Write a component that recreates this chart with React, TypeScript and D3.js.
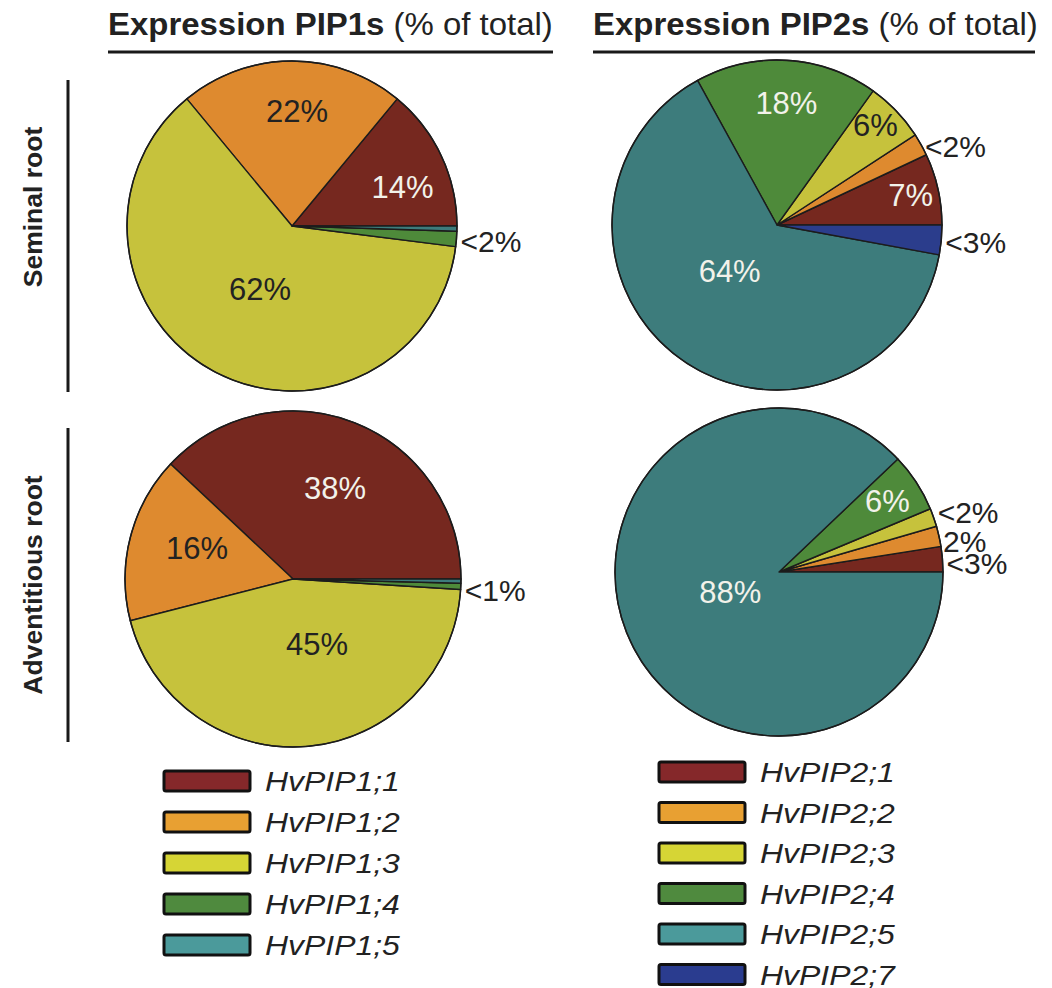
import React from "react";
import * as d3 from "d3";

// gene names (legend entries)
const pip1Genes = ["HvPIP1;1", "HvPIP1;2", "HvPIP1;3", "HvPIP1;4", "HvPIP1;5"];
const pip2Genes = ["HvPIP2;1", "HvPIP2;2", "HvPIP2;3", "HvPIP2;4", "HvPIP2;5", "HvPIP2;7"];

// expression share, % of total (same order as the genes)
const pip1Seminal = [14, 22, 62, 1.5, 0.5];
const pip1Adventitious = [38, 16, 45, 0.6, 0.4];
const pip2Seminal = [7, 2.2, 5.9, 17.9, 64.1, 2.9];
const pip2Adventitious = [2.5, 2.0, 1.8, 5.8, 87.9, 0];

// printed labels per slice ("" = none)
const pip1SeminalLabels = ["14%", "22%", "62%", "<2%", ""];
const pip1AdventitiousLabels = ["38%", "16%", "45%", "<1%", ""];
const pip2SeminalLabels = ["7%", "<2%", "6%", "18%", "64%", "<3%"];
const pip2AdventitiousLabels = ["<3%", "2%", "<2%", "6%", "88%", ""];

const rowNames = ["Seminal root", "Adventitious root"];
const titles = ["Expression PIP1s", "Expression PIP2s"];

// colours
const pieColors = ["#76281f", "#de8a2f", "#c6c23c", "#4e8a3a", "#3d7c7c", "#2b3d8c"];
const legendColors = ["#85282a", "#e8a032", "#d6d535", "#4f8a3e", "#4b9a9b", "#2a3c8f"];
const lightText = "#f2f2ea";
const darkText = "#222";

// label placement: r = fraction of radius, da = angle nudge (deg, ccw), out = outside the rim
type LabelPos = { r?: number; da?: number; out?: boolean; light?: boolean; dy?: number };

const FONT = "'Liberation Sans', Arial, Helvetica, sans-serif";

const Pie = ({ cx, cy, r, values, labels, layout }: {
  cx: number; cy: number; r: number; values: number[]; labels: string[]; layout: LabelPos[];
}) => {
  // counter-clockwise from 3 o'clock
  const pie = d3.pie<number>().sort(null).value(d => d)
    .startAngle(Math.PI / 2).endAngle(Math.PI / 2 - 2 * Math.PI);
  const arcs = pie(values);
  const arc = d3.arc<d3.PieArcDatum<number>>().innerRadius(0).outerRadius(r);

  return (
    <g>
      {arcs.map((a, i) => a.value > 0 && (
        <path key={i} d={arc(a) as string} transform={`translate(${cx},${cy})`}
          fill={pieColors[i]} stroke="#1c1c1c" strokeWidth={1.4} strokeLinejoin="round" />
      ))}
      <circle cx={cx} cy={cy} r={r} fill="none" stroke="#1c1c1c" strokeWidth={1.4} />
      {arcs.map((a, i) => {
        const lab = labels[i];
        const lp = layout[i];
        if (!lab || !lp) return null;
        // mid angle in ccw degrees from 3 o'clock
        const mid = 90 - ((a.startAngle + a.endAngle) / 2) * 180 / Math.PI + (lp.da || 0);
        const t = mid * Math.PI / 180;
        if (lp.out) {
          const x = cx + Math.cos(t) * r + 4;
          const y = cy - Math.sin(t) * r + 2 + (lp.dy || 0);
          return (
            <text key={"l" + i} x={x} y={y} dy="0.36em" fontSize={30} fill={darkText}
              fontFamily={FONT}>{lab}</text>
          );
        }
        const rr = (lp.r || 0.6) * r;
        const x = cx + Math.cos(t) * rr;
        const y = cy - Math.sin(t) * rr;
        return (
          <text key={"l" + i} x={x} y={y} dy="0.36em" textAnchor="middle" fontSize={31}
            fill={lp.light ? lightText : darkText} fontFamily={FONT}>{lab}</text>
        );
      })}
    </g>
  );
};

const Legend = ({ x, y0, step, genes }: { x: number; y0: number; step: number; genes: string[] }) => {
  const yScale = d3.scalePoint<string>().domain(genes).range([y0, y0 + step * (genes.length - 1)]);
  return (
    <g>
      {genes.map((g, i) => {
        const y = yScale(g) as number;
        return (
          <g key={g}>
            <rect x={x} y={y - 10} width={86} height={20} rx={2} fill={legendColors[i]}
              stroke="#111" strokeWidth={3} />
            <text transform={`translate(${x + 101},${y + 10}) scale(1.14,1)`} fontSize={28}
              fontStyle="italic" fill={darkText} fontFamily={FONT}>{g}</text>
          </g>
        );
      })}
    </g>
  );
};

const Title = ({ x, text, lineEnd }: { x: number; text: string; lineEnd: number }) => (
  <g>
    <text transform={`translate(${x},35) scale(1.08,1)`} fontSize={30.5} fill={darkText} fontFamily={FONT}>
      <tspan fontWeight="bold">{text}</tspan>
      <tspan> (% of total)</tspan>
    </text>
    <line x1={x} x2={lineEnd} y1={52} y2={52} stroke="#1a1a1a" strokeWidth={3} />
  </g>
);

const App = () => {
  const W = 1052;
  const H = 988;
  const r = 165;
  const colX = [292, 778];
  const rowY = [226, 577];

  const layouts: LabelPos[][] = [
    [{ r: 0.71, da: -5.7, light: true }, { r: 0.7, da: -2.5 }, { r: 0.43, da: 2 }, { out: true }, {}],
    [{ r: 0.6, da: -3, light: true }, { r: 0.6, da: -3.5 }, { r: 0.41, da: 15 }, { out: true, dy: 2 }, {}],
    [{ r: 0.83, light: true }, { out: true }, { r: 0.85, da: 1.7 }, { r: 0.74, da: -1, light: true }, { r: 0.4, da: -10, light: true }, { out: true }],
    [{ out: true, dy: 2 }, { out: true, dy: 3 }, { out: true, dy: -7 }, { r: 0.79, light: true }, { r: 0.32, light: true }, {}],
  ];

  return (
    <svg width={W} height={H} style={{ position: "absolute", left: 0, top: 0, background: "#fff" }}>
      <Title x={108} text={titles[0]} lineEnd={553} />
      <Title x={593} text={titles[1]} lineEnd={1035} />

      {/* row labels */}
      <text transform="translate(42,207) rotate(-90)" textAnchor="middle" fontSize={26.5}
        fontWeight="bold" fill={darkText} fontFamily={FONT}>{rowNames[0]}</text>
      <line x1={68} x2={68} y1={80} y2={392} stroke="#1a1a1a" strokeWidth={3} />
      <text transform="translate(42,585) rotate(-90)" textAnchor="middle" fontSize={26.5}
        fontWeight="bold" fill={darkText} fontFamily={FONT}>{rowNames[1]}</text>
      <line x1={68} x2={68} y1={428} y2={742} stroke="#1a1a1a" strokeWidth={3} />

      <Pie cx={colX[0]} cy={rowY[0]} r={r} values={pip1Seminal} labels={pip1SeminalLabels} layout={layouts[0]} />
      <Pie cx={colX[0] + 1} cy={rowY[1] + 2} r={r + 3} values={pip1Adventitious} labels={pip1AdventitiousLabels} layout={layouts[1]} />
      <Pie cx={colX[1] - 1} cy={rowY[0] - 1} r={r} values={pip2Seminal} labels={pip2SeminalLabels} layout={layouts[2]} />
      <Pie cx={colX[1] + 1} cy={rowY[1] - 5} r={r - 1} values={pip2Adventitious} labels={pip2AdventitiousLabels} layout={layouts[3]} />

      <Legend x={164} y0={781} step={41} genes={pip1Genes} />
      <Legend x={659} y0={772} step={40.5} genes={pip2Genes} />
    </svg>
  );
};

export default App;
